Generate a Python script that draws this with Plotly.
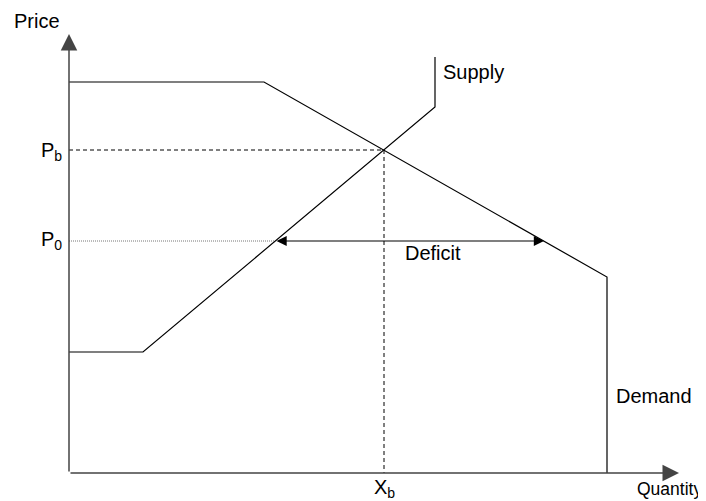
import plotly.graph_objects as go

# Data (quantity, price) in chart units
supply_q = [0, 74, 366, 366]
supply_p = [121, 121, 366, 416]
demand_q = [0, 195, 538, 538]
demand_p = [391, 391, 196, 0]
price_b = 323
qty_b = 315
price_0 = 232
deficit_q = [206, 475]
axis_q_max = 610
axis_p_max = 439

FONT = "Liberation Sans, Arial, sans-serif"
fig = go.Figure()

fig.add_trace(go.Scatter(x=supply_q, y=supply_p, mode="lines",
                         line=dict(color="black", width=1.2), hoverinfo="skip"))
fig.add_trace(go.Scatter(x=demand_q, y=demand_p, mode="lines",
                         line=dict(color="black", width=1.2), hoverinfo="skip"))
# Pb dashed lines
fig.add_trace(go.Scatter(x=[0, qty_b, qty_b], y=[price_b, price_b, 0], mode="lines",
                         line=dict(color="black", width=1, dash="4px,3px"), hoverinfo="skip"))
# P0 dotted line
fig.add_trace(go.Scatter(x=[0, deficit_q[0]], y=[price_0, price_0], mode="lines",
                         line=dict(color="#777777", width=1, dash="1px,1px"), hoverinfo="skip"))

annotations = []
# axes with arrows
annotations.append(dict(x=axis_q_max, y=0, ax=0, ay=0, xref="x", yref="y", axref="x", ayref="y",
                        text="", showarrow=True, arrowhead=2, arrowsize=2.2, arrowwidth=1.5,
                        arrowcolor="#444444"))
annotations.append(dict(x=0, y=axis_p_max, ax=0, ay=0, xref="x", yref="y", axref="x", ayref="y",
                        text="", showarrow=True, arrowhead=2, arrowsize=2.2, arrowwidth=1.5,
                        arrowcolor="#444444"))
# deficit double arrow
annotations.append(dict(x=deficit_q[1], y=price_0, ax=deficit_q[0], ay=price_0, xref="x", yref="y",
                        axref="x", ayref="y", text="", showarrow=True, arrowhead=2, startarrowhead=2,
                        arrowside="end+start", arrowsize=1.7, startarrowsize=1.7, arrowwidth=1.2,
                        arrowcolor="black"))

def label(x, y, text, xa="left", ya="middle", size=20):
    annotations.append(dict(x=x, y=y, xref="x", yref="y", text=text, showarrow=False,
                            xanchor=xa, yanchor=ya, font=dict(family=FONT, size=size, color="black")))

label(-57, 452, "Price")
label(-5, price_b - 1, "P<sub>b</sub>", xa="right")
label(-5, price_0 + 1, "P<sub>0</sub>", xa="right")
label(372, 401, "Supply")
label(545, 77, "Demand")
label(334, 220, "Deficit")
label(qty_b, -15, "X<sub>b</sub>", xa="center")
label(566, -16, "Quantity", size=17.5)

fig.update_layout(
    width=698, height=493,
    margin=dict(l=0, r=0, t=0, b=0),
    paper_bgcolor="white", plot_bgcolor="white",
    showlegend=False,
    xaxis=dict(range=[-61, 637], visible=False, fixedrange=True),
    yaxis=dict(range=[-28, 465], visible=False, fixedrange=True),
    annotations=annotations,
)

fig.write_html("out.html")
